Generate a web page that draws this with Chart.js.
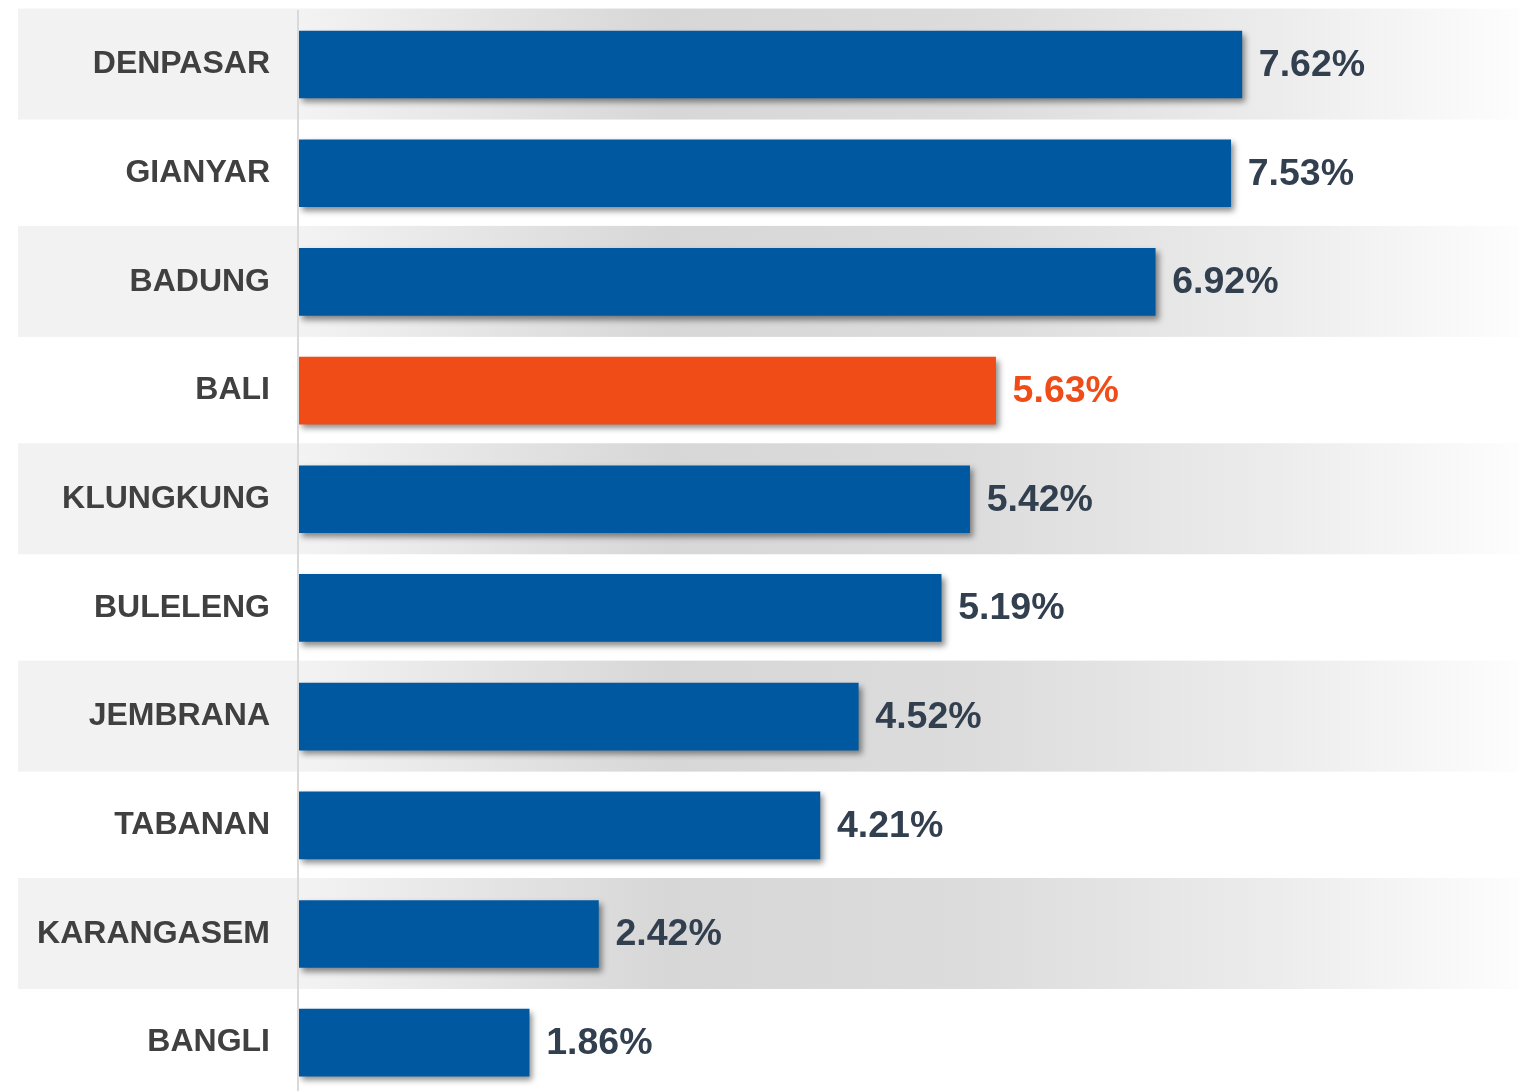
<!DOCTYPE html>
<html>
<head>
<meta charset="utf-8">
<script src="https://cdn.jsdelivr.net/npm/chart.js@4/dist/chart.umd.min.js"></script>
<style>
  html, body { margin: 0; padding: 0; background: #fff; }
  #wrap { width: 1519px; height: 1091px; overflow: hidden; position: relative; }
  #grafico { display: block; }
</style>
</head>
<body>
<div id="wrap">
  <canvas id="grafico" width="1519" height="1097"></canvas>
</div>
<script>
const kabupaten = ["DENPASAR", "GIANYAR", "BADUNG", "BALI", "KLUNGKUNG", "BULELENG", "JEMBRANA", "TABANAN", "KARANGASEM", "BANGLI"];
const persen = [7.62, 7.53, 6.92, 5.63, 5.42, 5.19, 4.52, 4.21, 2.42, 1.86];
const provinsi = "BALI";

const BIRU = "#0059a0";
const ORANYE = "#f04c18";

const warnaBatang = kabupaten.map(k => k === provinsi ? ORANYE : BIRU);

// alternating gray bands behind the rows, plus the axis line
const latarBaris = {
    id: "latarBaris",
    beforeDraw(chart) {
        const { ctx, chartArea, scales } = chart;
        const y = scales.y;
        ctx.save();
        kabupaten.forEach((k, i) => {
            if (i % 2 !== 0) return;
            const cy = y.getPixelForValue(i);
            const top = cy - 56;
            const h = 111;
            ctx.fillStyle = "#f2f2f2";
            ctx.fillRect(18, top, chartArea.left - 18, h);
            const g = ctx.createLinearGradient(chartArea.left, 0, chartArea.right, 0);
            g.addColorStop(0, "#f3f3f3");
            g.addColorStop(0.3, "#d7d7d7");
            g.addColorStop(0.55, "#dcdcdc");
            g.addColorStop(0.8, "#ececec");
            g.addColorStop(1, "#fdfdfd");
            ctx.fillStyle = g;
            ctx.fillRect(chartArea.left, top, chartArea.right - chartArea.left, h);
        });
        ctx.fillStyle = "#d9d9d9";
        ctx.fillRect(chartArea.left - 2, 10, 2, chart.height);
        ctx.restore();
    }
};

const bayangan = {
    id: "bayangan",
    beforeDatasetDraw(chart) {
        const ctx = chart.ctx;
        ctx.save();
        ctx.shadowColor = "rgba(0, 0, 0, 0.45)";
        ctx.shadowBlur = 6;
        ctx.shadowOffsetX = 3;
        ctx.shadowOffsetY = 4;
    },
    afterDatasetDraw(chart) {
        chart.ctx.restore();
    }
};

const labelNilai = {
    id: "labelNilai",
    afterDatasetsDraw(chart) {
        const { ctx } = chart;
        const meta = chart.getDatasetMeta(0);
        ctx.save();
        ctx.font = "bold 37.5px 'Liberation Sans', Arial, sans-serif";
        ctx.textAlign = "left";
        ctx.textBaseline = "middle";
        meta.data.forEach((bar, i) => {
            ctx.fillStyle = kabupaten[i] === provinsi ? ORANYE : "#323f4f";
            ctx.fillText(persen[i].toFixed(2) + "%", bar.x + 17, bar.y + 1);
        });
        ctx.restore();
    }
};

new Chart(document.getElementById("grafico"), {
    type: "bar",
    data: {
        labels: kabupaten,
        datasets: [{
            data: persen,
            backgroundColor: warnaBatang,
            borderWidth: 0,
            barThickness: 67
        }]
    },
    options: {
        indexAxis: "y",
        responsive: false,
        animation: false,
        devicePixelRatio: 1,
        layout: { padding: { top: 10.2, right: 0, bottom: 0, left: 0 } },
        plugins: {
            legend: { display: false },
            tooltip: { enabled: false }
        },
        scales: {
            x: {
                display: false,
                min: 0,
                max: 9.86
            },
            y: {
                afterFit(scale) {
                    scale.width = 299;
                    scale.paddingTop = 0;
                    scale.paddingBottom = 0;
                },
                grid: { display: false, drawTicks: false },
                border: { display: false },
                ticks: {
                    padding: 29,
                    color: "#404040",
                    font: { family: "'Liberation Sans', Arial, sans-serif", size: 32, weight: "bold" }
                }
            }
        }
    },
    plugins: [latarBaris, bayangan, labelNilai]
});
</script>
</body>
</html>
